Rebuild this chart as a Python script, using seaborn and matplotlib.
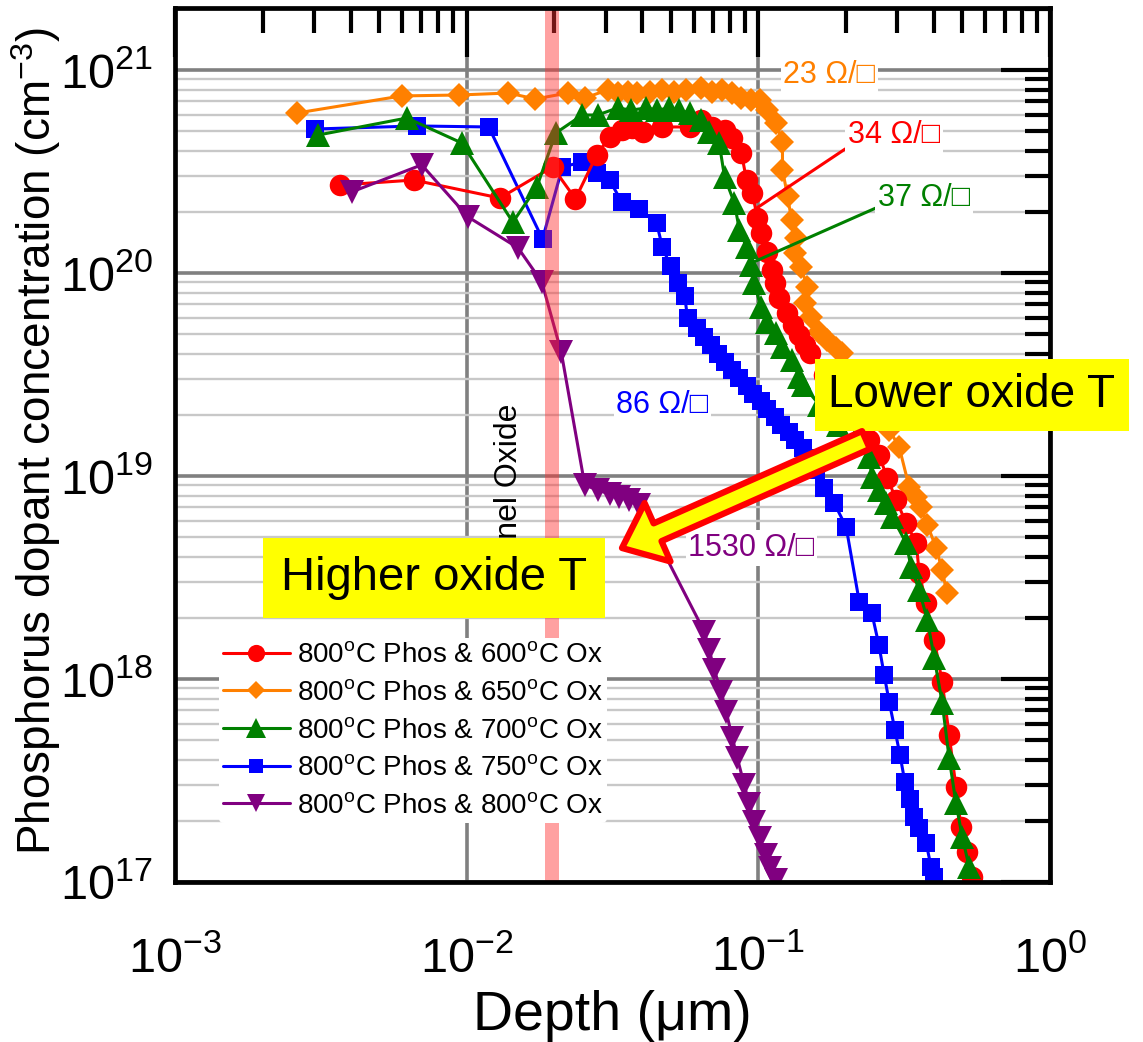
import numpy as np
import pandas as pd
import matplotlib
matplotlib.use("Agg")
import matplotlib.pyplot as plt
import seaborn as sns
from matplotlib.ticker import LogLocator, NullFormatter
from matplotlib.patches import FancyArrowPatch

# ---------------- data (depth in um, concentration in cm^-3) ----------------
depth_600 = [0.00367, 0.00658, 0.0130, 0.0197, 0.0236, 0.0279, 0.0309, 0.0340, 0.0370, 0.0401,
             0.0469, 0.0581, 0.0638, 0.0695, 0.0766, 0.0810, 0.0875, 0.0911, 0.0953, 0.0993,
             0.102, 0.107, 0.111, 0.114, 0.118, 0.125, 0.131, 0.138, 0.144, 0.150,
             0.168, 0.189, 0.213, 0.240, 0.259, 0.277, 0.297, 0.321, 0.348, 0.356,
             0.376, 0.401, 0.427, 0.451, 0.476, 0.495, 0.520, 0.541]
conc_600 = [2.71e20, 2.87e20, 2.34e20, 3.33e20, 2.32e20, 3.81e20, 4.68e20, 5.06e20, 5.18e20, 4.95e20,
            5.24e20, 5.24e20, 5.67e20, 5.24e20, 5.06e20, 4.62e20, 3.90e20, 2.87e20, 2.48e20, 1.87e20,
            1.57e20, 1.27e20, 1.04e20, 8.93e19, 7.54e19, 6.35e19, 5.55e19, 4.95e19, 4.42e19, 4.04e19,
            3.15e19, 2.51e19, 2.00e19, 1.50e19, 1.27e19, 9.77e18, 7.62e18, 5.87e18, 4.68e18, 3.33e18,
            2.37e18, 1.56e18, 9.66e17, 5.30e17, 2.94e17, 1.87e17, 1.41e17, 1.06e17]

depth_650 = [0.00262, 0.00598, 0.00940, 0.0139, 0.0172, 0.0222, 0.0254, 0.0304, 0.0329, 0.0356,
             0.0385, 0.0424, 0.0469, 0.0515, 0.0566, 0.0638, 0.0695, 0.0753, 0.0810, 0.0875,
             0.0946, 0.101, 0.107, 0.115, 0.121, 0.121, 0.126, 0.130, 0.135, 0.134,
             0.140, 0.147, 0.145, 0.152, 0.162, 0.172, 0.185, 0.194, 0.213, 0.232,
             0.256, 0.281, 0.304, 0.329, 0.348, 0.361, 0.380, 0.407, 0.427, 0.443]
conc_650 = [6.14e20, 7.45e20, 7.53e20, 7.70e20, 7.20e20, 7.70e20, 7.28e20, 7.97e20, 7.70e20, 7.79e20,
            7.70e20, 7.79e20, 7.97e20, 7.79e20, 7.97e20, 8.15e20, 7.79e20, 7.97e20, 7.70e20, 7.28e20,
            7.11e20, 7.11e20, 6.35e20, 5.48e20, 4.42e20, 3.22e20, 2.39e20, 1.82e20, 1.49e20, 1.26e20,
            1.07e20, 8.53e19, 7.11e19, 6.07e19, 5.12e19, 4.68e19, 4.27e19, 4.04e19, 3.25e19, 2.59e19,
            2.07e19, 1.69e19, 1.39e19, 8.83e18, 7.88e18, 7.03e18, 5.74e18, 4.42e18, 3.44e18, 2.65e18]

depth_700 = [0.00309, 0.00624, 0.00962, 0.0144, 0.0174, 0.0202, 0.0249, 0.0281, 0.0329, 0.0367,
             0.0413, 0.0451, 0.0495, 0.0536, 0.0581, 0.0638, 0.0679, 0.0734, 0.0766, 0.0828,
             0.0861, 0.0911, 0.0946, 0.0968, 0.102, 0.107, 0.115, 0.121, 0.130, 0.138,
             0.142, 0.162, 0.187, 0.213, 0.240, 0.245, 0.259, 0.274, 0.288, 0.321,
             0.334, 0.356, 0.380, 0.401, 0.427, 0.451, 0.476, 0.500, 0.528]
conc_700 = [4.78e20, 5.80e20, 4.37e20, 1.78e20, 2.65e20, 4.89e20, 6.00e20, 6.00e20, 6.50e20, 6.35e20,
            6.50e20, 6.35e20, 6.50e20, 6.35e20, 6.14e20, 5.67e20, 4.95e20, 4.37e20, 2.97e20, 2.21e20,
            1.63e20, 1.34e20, 1.09e20, 8.93e19, 6.80e19, 5.74e19, 5.06e19, 4.32e19, 3.73e19, 3.08e19,
            2.81e19, 2.24e19, 1.78e19, 1.47e19, 1.24e19, 9.89e18, 8.53e18, 7.36e18, 6.28e18, 4.68e18,
            3.56e18, 2.74e18, 1.95e18, 1.27e18, 7.62e17, 4.08e17, 2.45e17, 1.67e17, 1.19e17]

depth_750 = [0.00301, 0.00675, 0.0119, 0.0182, 0.0213, 0.0249, 0.0279, 0.0309, 0.0340, 0.0391,
             0.0448, 0.0469, 0.0500, 0.0529, 0.0559, 0.0572, 0.0614, 0.0653, 0.0690, 0.0729,
             0.0771, 0.0815, 0.0861, 0.0911, 0.0962, 0.102, 0.107, 0.114, 0.120, 0.127,
             0.134, 0.142, 0.150, 0.158, 0.168, 0.182, 0.200, 0.222, 0.245, 0.259,
             0.270, 0.281, 0.294, 0.306, 0.318, 0.332, 0.342, 0.356, 0.376, 0.391, 0.401]
conc_750 = [5.12e20, 5.30e20, 5.24e20, 1.47e20, 3.33e20, 3.52e20, 3.11e20, 2.87e20, 2.24e20, 2.07e20,
            1.76e20, 1.34e20, 1.08e20, 8.93e19, 7.71e19, 6.00e19, 5.36e19, 4.84e19, 4.42e19, 3.99e19,
            3.65e19, 3.33e19, 3.04e19, 2.78e19, 2.54e19, 2.34e19, 2.14e19, 1.95e19, 1.78e19, 1.65e19,
            1.50e19, 1.37e19, 1.23e19, 1.07e19, 8.73e18, 7.36e18, 5.61e18, 2.39e18, 2.11e18, 1.47e18,
            1.05e18, 7.71e17, 5.61e17, 4.22e17, 3.11e17, 2.56e17, 2.09e17, 1.85e17, 1.56e17, 1.19e17, 1.06e17]

depth_800 = [0.00404, 0.00701, 0.0101, 0.0150, 0.0181, 0.0211, 0.0254, 0.0281, 0.0309, 0.0334,
             0.0361, 0.0391, 0.0653, 0.0679, 0.0706, 0.0746, 0.0776, 0.0815, 0.0847, 0.0895,
             0.0931, 0.0968, 0.101, 0.106, 0.110, 0.115]
conc_800 = [2.51e20, 3.41e20, 1.89e20, 1.33e20, 9.03e19, 4.08e19, 9.03e18, 8.53e18, 8.15e18, 7.88e18,
            7.62e18, 7.20e18, 1.71e18, 1.39e18, 1.11e18, 8.63e17, 6.88e17, 5.12e17, 4.08e17, 3.01e17,
            2.42e17, 1.98e17, 1.65e17, 1.36e17, 1.17e17, 1.02e17]

oxide_temps = ["600", "650", "700", "750", "800"]
series_labels = [r"800$^{\mathrm{o}}$C Phos & %s$^{\mathrm{o}}$C Ox" % t for t in oxide_temps]
sheet_res = ["34 Ω/□", "23 Ω/□", "37 Ω/□", "86 Ω/□", "1530 Ω/□"]
tunnel_oxide_range = (0.0185, 0.0208)

# ---------------- style ----------------
sns.set_style("white")
plt.rcParams["font.family"] = ["Liberation Sans", "DejaVu Sans"]
plt.rcParams["mathtext.fontset"] = "custom"
plt.rcParams["mathtext.rm"] = "Liberation Sans"
plt.rcParams["mathtext.it"] = "Liberation Sans:italic"
plt.rcParams["mathtext.bf"] = "Liberation Sans:bold"
plt.rcParams["mathtext.default"] = "regular"
plt.rcParams["text.color"] = "black"
plt.rcParams["axes.labelcolor"] = "black"
plt.rcParams["xtick.color"] = "black"
plt.rcParams["ytick.color"] = "black"

W, H = 1143, 1042
fig = plt.figure(figsize=(W / 100, H / 100), dpi=100)
fig.patch.set_facecolor("white")
ax = fig.add_axes([175 / W, 1 - 882 / H, 875 / W, 874 / H])

colors = ["#FF0000", "#FF8000", "#008000", "#0000FF", "#800080"]
markers = ["o", "D", "^", "s", "v"]
msizes = [15.5, 12, 17.5, 13, 17]
zorders = [2.3, 2.1, 2.4, 2.2, 2.5]
depths = [depth_600, depth_650, depth_700, depth_750, depth_800]
concs = [conc_600, conc_650, conc_700, conc_750, conc_800]

ax.set_xscale("log")
ax.set_yscale("log")

draw_order = [1, 0, 2, 3, 4]
for i in draw_order:
    sns.lineplot(x=depths[i], y=concs[i], ax=ax, color=colors[i], marker=markers[i],
                 markersize=msizes[i], markeredgewidth=0, markeredgecolor=colors[i],
                 linewidth=2.2, sort=False, estimator=None, label=series_labels[i],
                 zorder=zorders[i])

ax.set_xlim(1e-3, 1)
ax.set_ylim(1e17, 2.02e21)

# grid
ax.set_axisbelow(True)
ax.yaxis.set_minor_locator(LogLocator(base=10, subs=np.arange(2, 10), numticks=30))
ax.xaxis.set_minor_locator(LogLocator(base=10, subs=np.arange(2, 10), numticks=30))
ax.xaxis.set_minor_formatter(NullFormatter())
ax.yaxis.set_minor_formatter(NullFormatter())
ax.grid(which="major", axis="y", color="#808080", lw=2.6)
ax.grid(which="minor", axis="y", color="#c8c8c8", lw=1.7)
ax.grid(which="major", axis="x", color="#808080", lw=2.6)

for s in ax.spines.values():
    s.set_linewidth(3.4)
    s.set_color("black")
    s.set_zorder(6)

ax.tick_params(which="major", direction="in", length=35, width=3, top=True, right=True,
               labelsize=35, color="black")
ax.tick_params(which="minor", direction="in", length=18, width=3, top=True, right=True,
               color="black")
ax.tick_params(axis="x", which="major", pad=39)
ax.tick_params(axis="y", which="major", pad=16)

ax.set_xlabel("Depth (μm)", fontsize=40)
ax.set_ylabel("Phosphorus dopant concentration (cm$^{-3}$)", fontsize=33)
ax.xaxis.set_label_coords(0.5, -0.124)
ax.yaxis.set_label_coords(-0.128, 0.505)

# tunnel oxide band
ax.axvspan(*tunnel_oxide_range, color="#ff3030", alpha=0.45, lw=0, zorder=4)
ax.text(0.0140, 7.8e18, "Tunnel Oxide", rotation=90, ha="center", va="center",
        fontsize=23, zorder=3)

# sheet-resistance labels
box = dict(fc="white", ec="none", pad=2)
fs_lab = 22
ax.text(0.175, 9.45e20, sheet_res[1], color=colors[1], fontsize=fs_lab, ha="center", va="center",
        bbox=box, zorder=5)
ax.annotate(sheet_res[0], xy=(depth_600[19], 2.1e20), xytext=(0.292, 4.78e20),
            color=colors[0], fontsize=fs_lab, ha="center", va="center", bbox=box, zorder=5,
            arrowprops=dict(arrowstyle="-", color=colors[0], lw=2.2, relpos=(0.0, 0.1),
                            shrinkA=0, shrinkB=0))
ax.annotate(sheet_res[2], xy=(depth_700[22], 1.12e20), xytext=(0.370, 2.34e20),
            color=colors[2], fontsize=fs_lab, ha="center", va="center", bbox=box, zorder=5,
            arrowprops=dict(arrowstyle="-", color=colors[2], lw=2.2, relpos=(0.0, 0.2),
                            shrinkA=0, shrinkB=0))
ax.text(0.0469, 2.24e19, sheet_res[3], color=colors[3], fontsize=fs_lab, ha="center", va="center",
        bbox=box, zorder=5)
ax.text(0.0946, 4.42e18, sheet_res[4], color=colors[4], fontsize=fs_lab, ha="center", va="center",
        bbox=box, zorder=5)

# legend
handles, labels = ax.get_legend_handles_labels()
order = [labels.index(l) for l in series_labels]
leg = ax.legend([handles[k] for k in order], [labels[k] for k in order],
                loc="upper left", bbox_to_anchor=(0.05, 0.279), fontsize=20,
                frameon=True, facecolor="white", edgecolor="none", framealpha=1,
                handlelength=2.4, handletextpad=0.25, labelspacing=0.42,
                borderpad=0.15, borderaxespad=0, markerscale=0.8)
leg.set_zorder(7)

# big call-out boxes and arrow
fig.text(972 / W, 1 - 395 / H, "Lower oxide T", fontsize=33, ha="center", va="center",
         bbox=dict(boxstyle="square,pad=0.3", fc="#ffff00", ec="none"), zorder=8)
fig.text(434 / W, 1 - 578 / H, "Higher oxide T", fontsize=34, ha="center", va="center",
         bbox=dict(boxstyle="square,pad=0.38", fc="#ffff00", ec="none"), zorder=8)
arrow = FancyArrowPatch((866 / W, 1 - 440 / H), (622 / W, 1 - 548 / H),
                        transform=fig.transFigure,
                        arrowstyle="simple,head_length=28,head_width=46,tail_width=14",
                        mutation_scale=1, fc="#ffff00", ec="#ff0000", lw=4.5,
                        shrinkA=0, shrinkB=0, zorder=9)
fig.add_artist(arrow)

fig.savefig("out.png", dpi=100, facecolor="white")
